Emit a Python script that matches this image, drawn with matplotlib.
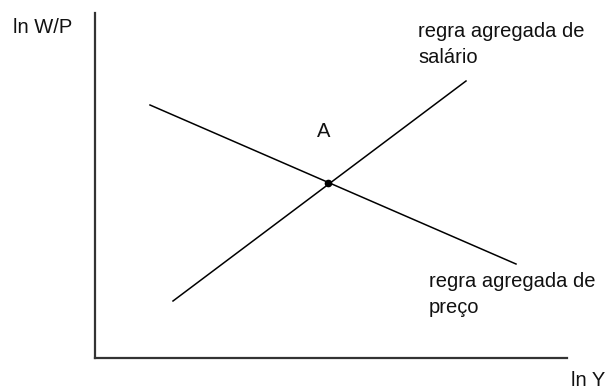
import matplotlib.pyplot as plt

# curves (axis units, origin at the corner of the axes)
wage_x = [78, 371]
wage_y = [57, 277]
price_x = [55, 421]
price_y = [253, 94]
point_a = (233, 175)

W, H = 610, 392
fig = plt.figure(figsize=(W / 100, H / 100), dpi=100)
ax = fig.add_axes([95 / W, (H - 358) / H, 472 / W, 345 / H])
ax.set_xlim(0, 472)
ax.set_ylim(0, 345)
for s in ['top', 'right']:
    ax.spines[s].set_visible(False)
for s in ['left', 'bottom']:
    ax.spines[s].set_linewidth(1.6)
    ax.spines[s].set_color('#333333')
ax.set_xticks([])
ax.set_yticks([])

ax.plot(wage_x, wage_y, color='black', lw=1.1)
ax.plot(price_x, price_y, color='black', lw=1.1)
ax.plot(*point_a, 'o', color='black', ms=4.5)

font = dict(family=['Liberation Sans', 'DejaVu Sans'], size=14.5, color='#111111')
ax.text(-82, 325, 'ln W/P', va='baseline', ha='left', clip_on=False, **font)
ax.text(476, -28, 'ln Y', va='baseline', ha='left', clip_on=False, **font)
ax.text(229, 221, 'A', va='baseline', ha='center', **font)
ax.text(323, 321, 'regra agregada de', va='baseline', ha='left', clip_on=False, **font)
ax.text(323, 295, 'salário', va='baseline', ha='left', clip_on=False, **font)
ax.text(334, 71, 'regra agregada de', va='baseline', ha='left', clip_on=False, **font)
ax.text(334, 45, 'preço', va='baseline', ha='left', clip_on=False, **font)

plt.savefig('out.png', dpi=100)
